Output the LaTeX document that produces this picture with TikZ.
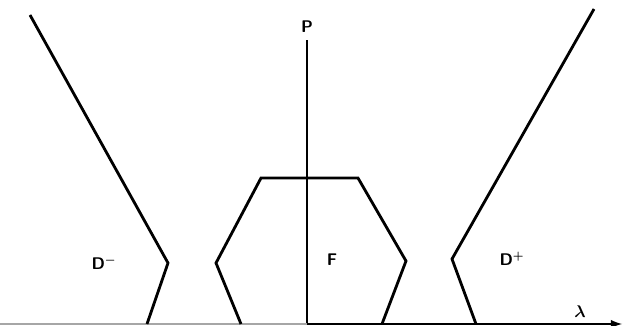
\documentclass[tikz,border=0pt]{standalone}
\usepackage{tikz}
\usepackage{amsmath,bm}
\usetikzlibrary{positioning}

\begin{document}
\begin{tikzpicture}[x=0.025cm,y=-0.025cm,
    curve/.style={line width=2pt,black,line join=miter},
    axis/.style={line width=1.7pt,black},
    lbl/.style={font=\sffamily\bfseries\large,inner sep=1pt}
]
\useasboundingbox (0,0) rectangle (625,326);

% Axes
\coordinate (origin) at (307,324);
\coordinate (ptop) at (307,40);
\coordinate (lleft) at (0,324);
\coordinate (lright) at (622,324);
\draw[axis] (origin) -- (ptop);
\draw[axis,black!35,line width=1.2pt] (lleft) -- (origin);
\draw[axis,-latex] (origin) -- (lright);
\node[lbl] (plabel) at (307,27) {P};
\node[lbl] (lambda) at (580,312) {$\bm{\lambda}$};

% Region D-
\draw[curve] (30,15) -- (168,263) -- (147,324);
\node[lbl] (dminus) at (104,263) {D$^{\bm{-}}$};

% Region F
\draw[curve] (241,324) -- (216,263) -- (261,178) -- (358,178) -- (406,261) -- (382,324);
\node[lbl] (freg) at (332,260) {F};

% Region D+
\draw[curve] (594,9) -- (452,259) -- (476,324);
\node[lbl] (dplus) at (512,259) {D$^{\bm{+}}$};

\end{tikzpicture}
\end{document}
